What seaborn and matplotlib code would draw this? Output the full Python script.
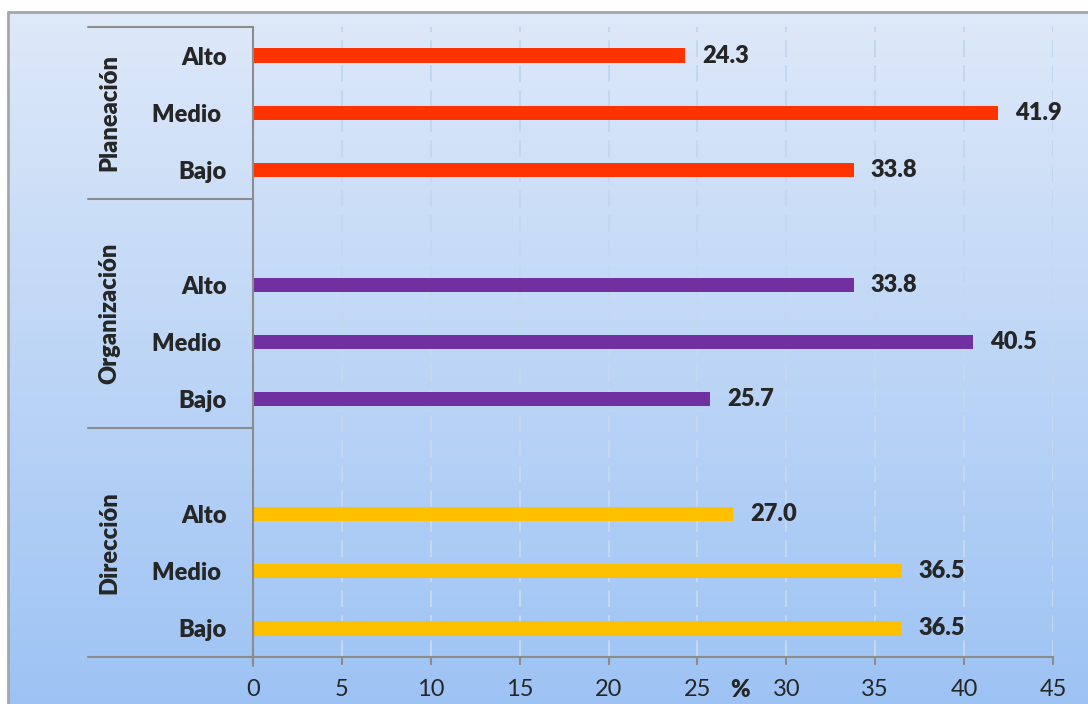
import matplotlib.pyplot as plt
import matplotlib.transforms as mtransforms
import numpy as np
import pandas as pd
import seaborn as sns
from matplotlib.lines import Line2D
from matplotlib.colors import LinearSegmentedColormap

# datos
grupos = ["Planeación", "Organización", "Dirección"]
niveles = ["Alto", "Medio ", "Bajo"]
planeacion = [24.3, 41.9, 33.8]
organizacion = [33.8, 40.5, 25.7]
direccion = [27.0, 36.5, 36.5]
colores = {"Planeación": "#FF3300", "Organización": "#7030A0", "Dirección": "#FFC000"}
xticks = [0, 5, 10, 15, 20, 25, 30, 35, 40, 45]

valores = {"Planeación": planeacion, "Organización": organizacion, "Dirección": direccion}

filas = []
orden = []
for i, g in enumerate(grupos):
    if i > 0:
        orden.append("hueco%d" % i)
    for n, v in zip(niveles, valores[g]):
        filas.append({"clave": g + "-" + n, "nivel": n, "grupo": g, "valor": v})
        orden.append(g + "-" + n)
df = pd.DataFrame(filas)
etiquetas = [o.split("-")[1] if "-" in o else "" for o in orden]

sns.set_style("white")
plt.rcParams["font.family"] = ["Lato", "DejaVu Sans"]
PESO = "heavy"

fig = plt.figure(figsize=(10.88, 7.04), dpi=100)
fig.patch.set_facecolor("white")

# fondo degradado
bg = fig.add_axes([8 / 1088, 0, 1 - 8 / 1088, 692 / 704], zorder=-5)
cmap = LinearSegmentedColormap.from_list("fondo", ["#DEE9F9", "#9DC3F4"])
bg.imshow(np.linspace(0, 1, 256).reshape(-1, 1), aspect="auto", cmap=cmap,
          extent=[0, 1, 0, 1])
bg.set_axis_off()
fig.add_artist(Line2D([8 / 1088, 8 / 1088], [0, 692 / 704], color="#A6A6A6", lw=2,
                      transform=fig.transFigure))
fig.add_artist(Line2D([8 / 1088, 1], [692 / 704, 692 / 704], color="#A6A6A6", lw=2,
                      transform=fig.transFigure))

ax = fig.add_axes([253 / 1088, (704 - 657) / 704, 800 / 1088, 630 / 704])
ax.set_facecolor("none")

sns.barplot(data=df, x="valor", y="clave", hue="grupo", palette=colores, order=orden,
            hue_order=grupos, dodge=False, width=0.25, saturation=1, linewidth=0,
            orient="h", legend=False, errorbar=None, ax=ax)

ax.set_xlim(0, 45)
ax.set_ylim(10.5, -0.5)
ax.set_xticks(xticks)
ax.set_yticks(range(len(orden)))
ax.set_yticklabels(etiquetas, fontsize=17, fontweight=PESO)
ax.set_xlabel("")
ax.set_ylabel("")
ax.tick_params(axis="y", length=0, pad=19)
ax.tick_params(axis="x", direction="out", length=6, width=1.5, color="#8C8C8C",
               labelsize=17, pad=10, bottom=True)

ax.set_axisbelow(True)
ax.xaxis.grid(True, color="#C3D7EF", linestyle=(0, (8, 4)), linewidth=1.5)
for s in ["top", "right"]:
    ax.spines[s].set_visible(False)
for s in ["bottom", "left"]:
    ax.spines[s].set_color("#8C8C8C")
    ax.spines[s].set_linewidth(1.5)

# etiquetas de valor
for p in ax.patches:
    w = p.get_width()
    if w <= 0 or np.isnan(w):
        continue
    ax.text(w + 0.95, p.get_y() + p.get_height() / 2, "%.1f" % w, ha="left",
            va="center", fontsize=17, fontweight=PESO)

# grupos y separadores
trans = mtransforms.blended_transform_factory(ax.transAxes, ax.transData)
limites = [-0.5, 2.5, 6.5, 10.5]
for y in limites:
    ax.plot([-0.206, 0], [y, y], color="#8C8C8C", lw=1.5, transform=trans, clip_on=False)
ax.plot([0, 0], [10.5, 10.65], color="#8C8C8C", lw=1.5, transform=trans, clip_on=False)
for g, a, b in zip(grupos, limites[:-1], limites[1:]):
    ax.text(-0.179, (a + b) / 2, g, rotation=90, ha="center", va="center",
            fontsize=17, fontweight=PESO, transform=trans)

ax.annotate("%", xy=(27.4, 0), xycoords=("data", "axes fraction"), xytext=(0, -24),
            textcoords="offset points", ha="center", va="center", fontsize=17,
            fontweight=PESO)

fig.savefig("out.png", dpi=100)
